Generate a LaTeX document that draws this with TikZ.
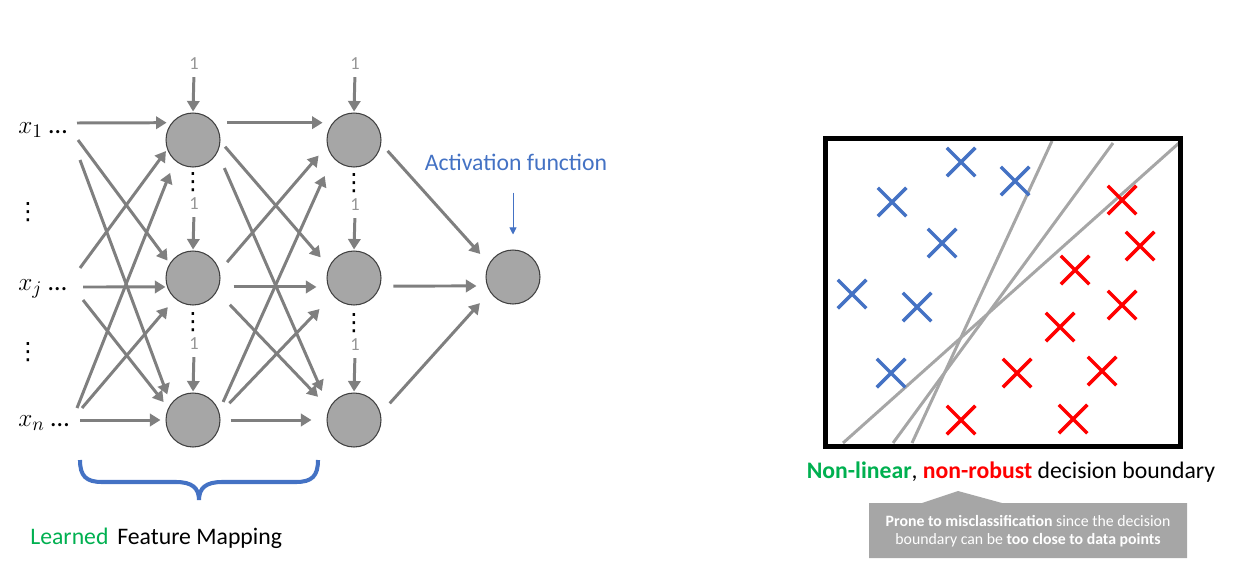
\documentclass[tikz,border=0pt]{standalone}
\usepackage{fontspec}
\setmainfont{Carlito}
\newfontfamily\symfont{DejaVu Sans}
\usetikzlibrary{arrows.meta, shapes.misc}

\definecolor{wiregray}{RGB}{127,127,127}
\definecolor{nodegray}{RGB}{166,166,166}
\definecolor{biasgray}{RGB}{150,150,150}
\definecolor{lineblue}{RGB}{68,114,196}
\definecolor{goodgreen}{RGB}{0,176,80}
\definecolor{badred}{RGB}{255,0,0}
\definecolor{bndgray}{RGB}{166,166,166}

\begin{document}
\begin{tikzpicture}[x=0.02cm, y=-0.02cm,
    neuron/.style={circle, draw=black!75, line width=0.6pt, fill=nodegray, minimum size=1.08cm, inner sep=0pt},
    wire/.style={-{Triangle[length=6pt, width=7pt]}, draw=wiregray, line width=1.7pt},
    bias/.style={text=biasgray, font=\fontsize{10.5}{11}\selectfont, inner sep=1pt},
    vdotsnode/.style={font=\symfont\fontsize{13.5}{14}\selectfont, inner sep=0pt},
    inlabel/.style={font=\fontsize{15}{18}\selectfont, inner sep=0pt, anchor=west},
    txt/.style={font=\fontsize{13.5}{16}\selectfont, inner sep=0pt},
    xmark/.style={cross out, draw, line width=2pt, minimum size=0.5cm, inner sep=0pt},
    bnd/.style={draw=bndgray, line width=1.7pt}]

    \useasboundingbox (0,0) rectangle (1233,568);

    % Draw nodes
    \node[neuron] (h1) at (193,140) {};
    \node[neuron] (h2) at (193,278) {};
    \node[neuron] (h3) at (193,420) {};
    \node[neuron] (g1) at (354,140) {};
    \node[neuron] (g2) at (354,278) {};
    \node[neuron] (g3) at (354,420) {};
    \node[neuron] (o) at (513,277) {};

    % Inputs
    \node[inlabel] (x1) at (18,130) {$x_1$\ \ldots};
    \node[inlabel] (xj) at (18,289) {$x_j$\ \ldots};
    \node[inlabel] (xn) at (18,423) {$x_n$\ \ldots};
    \node[vdotsnode] (v1) at (28,212) {⋮};
    \node[vdotsnode] (v2) at (28,352) {⋮};

    \coordinate (t11) at (77,123);
    \coordinate (t12) at (78,140);
    \coordinate (t13) at (80,160);
    \coordinate (t21) at (80,268);
    \coordinate (t22) at (83,287);
    \coordinate (t23) at (83,300);
    \coordinate (t31) at (77,408);
    \coordinate (t32) at (82,408);
    \coordinate (t33) at (80,420);

    % Bias inputs
    \node[bias] (b11) at (194,64) {1};
    \node[vdotsnode] (v11) at (193,182) {⋮};
    \node[bias] (b12) at (194,204) {1};
    \node[vdotsnode] (v12) at (193,322) {⋮};
    \node[bias] (b13) at (194,344) {1};
    \node[bias] (b21) at (355,64) {1};
    \node[vdotsnode] (v21) at (354,183) {⋮};
    \node[bias] (b22) at (355,205) {1};
    \node[vdotsnode] (v22) at (354,323) {⋮};
    \node[bias] (b23) at (355,345) {1};

    \draw[wire, shorten <=1mm, shorten >=0.2mm] (b11.south) -- (h1.north);
    \draw[wire, shorten <=1mm, shorten >=0.2mm] (b12.south) -- (h2.north);
    \draw[wire, shorten <=1mm, shorten >=0.2mm] (b13.south) -- (h3.north);
    \draw[wire, shorten <=1mm, shorten >=0.2mm] (b21.south) -- (g1.north);
    \draw[wire, shorten <=1mm, shorten >=0.2mm] (b22.south) -- (g2.north);
    \draw[wire, shorten <=1mm, shorten >=0.2mm] (b23.south) -- (g3.north);

    % Draw connections
    \draw[wire, shorten >=1mm] (t11) -- (h1.141);
    \draw[wire, shorten >=0.7mm] (t12) -- (h2.148);
    \draw[wire, shorten >=2mm] (t13) -- (h3.144);
    \draw[wire, shorten >=0.4mm] (t21) -- (h1.200);
    \draw[wire, shorten >=0.3mm] (t22) -- (h2.199.5);
    \draw[wire, shorten >=1.5mm] (t23) -- (h3.154);
    \draw[wire, shorten >=2.6mm] (t31) -- (h1.229);
    \draw[wire, shorten >=2.2mm] (t32) -- (h2.229);
    \draw[wire, shorten >=1mm] (t33) -- (h3.180);

    \draw[wire, shorten <=2.6mm, shorten >=2mm] (h1.39) -- (g1.141);
    \draw[wire, shorten <=1.4mm, shorten >=2.5mm] (h1.-3) -- (g2.156);
    \draw[wire, shorten <=3.4mm, shorten >=3.7mm] (h1.-27) -- (g3.154);
    \draw[wire, shorten <=2.3mm, shorten >=2.6mm] (h2.15) -- (g1.192);
    \draw[wire, shorten <=2.9mm, shorten >=2.3mm] (h2.-19.5) -- (g2.199.5);
    \draw[wire, shorten <=3.7mm, shorten >=3.2mm] (h2.-29) -- (g3.155);
    \draw[wire, shorten <=2mm, shorten >=4mm] (h3.19) -- (g1.220);
    \draw[wire, shorten <=2.8mm, shorten >=3.8mm] (h3.14) -- (g2.219);
    \draw[wire, shorten <=2mm, shorten >=3mm] (h3.0) -- (g3.180);

    \draw[wire, shorten <=1.9mm, shorten >=2.6mm] (g1.-8) -- (o.151.5);
    \draw[wire, shorten <=2.6mm, shorten >=2.1mm] (g2.-17.3) -- (o.199.5);
    \draw[wire, shorten <=2.7mm, shorten >=3mm] (g3.14.4) -- (o.213);

    % Labels
    \node[txt, text=lineblue] (act) at (516,162) {Activation function};
    \draw[-{Triangle[length=4pt, width=4pt]}, lineblue, line width=0.5pt, shorten <=4.4mm, shorten >=3mm] (act.south -| o) -- (o.north);

    \draw[lineblue, line width=2.3pt] (80,460) .. controls (80,476) and (86,482) .. (102,482) -- (176,482)
        .. controls (192,482) and (199,488) .. (199,500) .. controls (199,488) and (206,482) .. (222,482)
        -- (296,482) .. controls (312,482) and (318,476) .. (318,460);
    \node[txt, anchor=west] (lfm) at (30,538) {\textcolor{goodgreen}{Learned}\hspace{2pt} Feature Mapping};

    % Decision boundary plot
    \draw[bnd] (912,443) -- (1052,141);
    \draw[bnd] (893,443) -- (1113,143);
    \draw[bnd] (843,443) -- (1179,143);
    \draw[line width=0.1cm] (825,138) rectangle (1180,446);

    \foreach \px/\py [count=\i] in {961/162, 1015/181, 892/202, 942/243, 852/294, 917/307, 891/373}
        \node[xmark, draw=lineblue] (blue\i) at (\px,\py) {};
    \foreach \px/\py [count=\i] in {1122/200, 1140/246, 1075/270, 1122/305, 1060/327, 1017/373, 1102/371, 961/420, 1073/419}
        \node[xmark, draw=badred] (red\i) at (\px,\py) {};

    \node[txt] (cap) at (1011,472) {\textcolor{goodgreen}{\bfseries Non-linear}, \textcolor{badred}{\bfseries non-robust} decision boundary};

    \fill[nodegray] (869,503) -- (922,503) -- (958,491) -- (1002,503) -- (1187,503) -- (1187,558) -- (869,558) -- cycle;
    \node[text=white, font=\fontsize{9}{10.3}\selectfont, align=center, inner sep=0pt] (note) at (1028,531)
        {\textbf{Prone to misclassification} since the decision\\ boundary can be \textbf{too close to data points}};
\end{tikzpicture}
\end{document}
